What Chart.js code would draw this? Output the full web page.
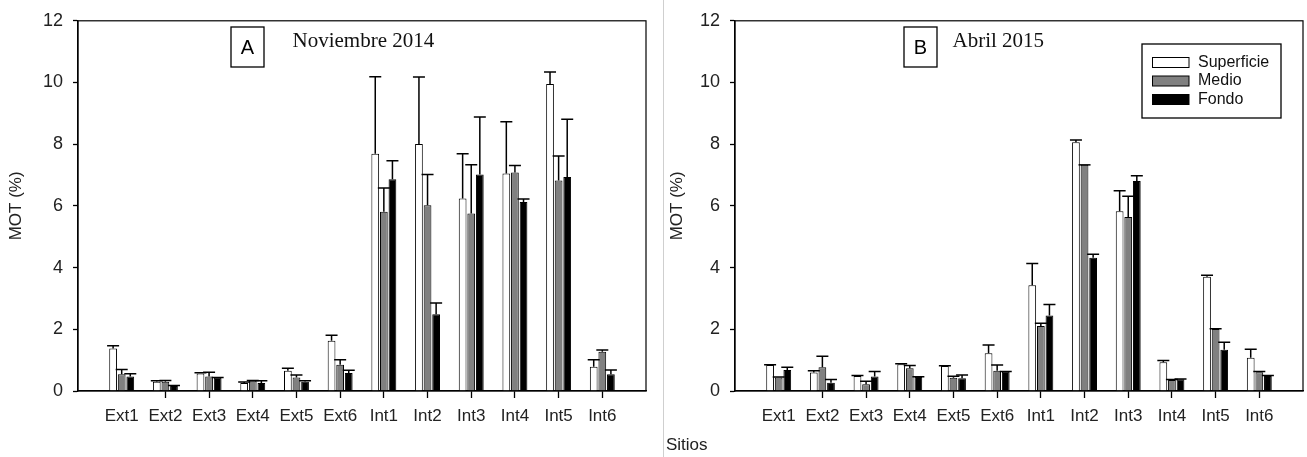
<!DOCTYPE html>
<html>
<head>
<meta charset="utf-8">
<script src="https://cdn.jsdelivr.net/npm/chart.js@4.4.1/dist/chart.umd.min.js"></script>
<style>
  html, body { margin: 0; padding: 0; background: #fff; }
  #wrap { position: relative; width: 1307px; height: 457px; overflow: hidden; }
  canvas { position: absolute; top: 0; }
  #chartA { left: 0; }
  #chartB { left: 663px; }
  #sep { position: absolute; left: 663px; top: 0; width: 1px; height: 457px; background: #cfcfcf; }
  #sitios { position: absolute; left: 666px; top: 435px; font: 17px Arial, "Liberation Sans", sans-serif; color: #222; }
</style>
</head>
<body>
<div id="wrap">
  <canvas id="chartA" width="663" height="457"></canvas>
  <div id="sep"></div>
  <canvas id="chartB" width="644" height="457"></canvas>
  <div id="sitios">Sitios</div>
</div>
<script>
// sampling sites
const sites = ['Ext1', 'Ext2', 'Ext3', 'Ext4', 'Ext5', 'Ext6', 'Int1', 'Int2', 'Int3', 'Int4', 'Int5', 'Int6'];
const depths = ['Superficie', 'Medio', 'Fondo'];

// Noviembre 2014 - MOT (%) means and standard errors
const nov2014Sup = [1.38, 0.30, 0.57, 0.26, 0.66, 1.63, 7.69, 8.01, 6.24, 7.05, 9.95, 0.79];
const nov2014SupErr = [0.09, 0.03, 0.02, 0.03, 0.08, 0.18, 2.50, 2.17, 1.45, 1.68, 0.39, 0.22];
const nov2014Med = [0.54, 0.30, 0.47, 0.33, 0.44, 0.85, 5.81, 6.02, 5.75, 7.08, 6.82, 1.27];
const nov2014MedErr = [0.16, 0.04, 0.14, 0.01, 0.08, 0.16, 0.77, 1.00, 1.58, 0.23, 0.80, 0.06];
const nov2014Fon = [0.47, 0.16, 0.43, 0.26, 0.30, 0.58, 6.86, 2.49, 7.02, 6.13, 6.94, 0.54];
const nov2014FonErr = [0.09, 0.02, 0.01, 0.07, 0.03, 0.09, 0.60, 0.36, 1.86, 0.09, 1.87, 0.14];

// Abril 2015
const abr2015Sup = [0.84, 0.60, 0.49, 0.87, 0.81, 1.22, 3.43, 8.06, 5.83, 0.93, 3.70, 1.08];
const abr2015SupErr = [0.01, 0.06, 0.01, 0.01, 0.01, 0.27, 0.70, 0.08, 0.66, 0.06, 0.05, 0.27];
const abr2015Med = [0.44, 0.77, 0.22, 0.74, 0.43, 0.66, 2.11, 7.33, 5.64, 0.36, 2.01, 0.61];
const abr2015MedErr = [0.01, 0.36, 0.10, 0.09, 0.05, 0.18, 0.09, 0.00, 0.67, 0.01, 0.01, 0.02];
const abr2015Fon = [0.68, 0.27, 0.47, 0.45, 0.41, 0.62, 2.45, 4.32, 6.81, 0.38, 1.34, 0.49];
const abr2015FonErr = [0.09, 0.10, 0.16, 0.01, 0.11, 0.01, 0.35, 0.11, 0.17, 0.01, 0.24, 0.01];

const yTicksMax = 12;
const yTicksStep = 2;

const fills = ['#ffffff', '#808080', '#000000'];
const sans = 'Arial, "Liberation Sans", sans-serif';
const serif = '"Times New Roman", "Liberation Serif", serif';

// empty slot on each side of the sites, like the original axis
const pad = arr => [null, ...arr, null];
const labels = pad(sites);

// upward error bars with caps
const errorBars = {
  id: 'errorBars',
  afterDatasetsDraw(chart) {
    const ctx = chart.ctx;
    const y = chart.scales.y;
    ctx.save();
    ctx.strokeStyle = '#000';
    ctx.lineWidth = 1.5;
    chart.data.datasets.forEach((ds, i) => {
      const meta = chart.getDatasetMeta(i);
      meta.data.forEach((bar, j) => {
        const v = ds.data[j];
        if (v == null) return;
        const top = y.getPixelForValue(v + ds.errors[j]);
        ctx.beginPath();
        ctx.moveTo(bar.x, bar.y);
        ctx.lineTo(bar.x, top);
        ctx.moveTo(bar.x - 6, top);
        ctx.lineTo(bar.x + 6, top);
        ctx.stroke();
      });
    });
    ctx.restore();
  }
};

// frame, panel letter, panel title and optional boxed legend
const panelDecor = {
  id: 'panelDecor',
  afterDraw(chart, args, opts) {
    const ctx = chart.ctx;
    const a = chart.chartArea;
    ctx.save();
    ctx.strokeStyle = '#000';
    ctx.lineWidth = 1.2;
    ctx.strokeRect(a.left, a.top, a.right - a.left, a.bottom - a.top);

    // letter box
    ctx.lineWidth = 1.3;
    ctx.strokeRect(a.left + opts.boxX, 27, 33, 40);
    ctx.fillStyle = '#000';
    ctx.font = '20px ' + sans;
    ctx.textAlign = 'center';
    ctx.textBaseline = 'middle';
    ctx.fillText(opts.letter, a.left + opts.boxX + 16.5, 48);

    ctx.font = '21px ' + serif;
    ctx.textAlign = 'left';
    ctx.textBaseline = 'alphabetic';
    ctx.fillStyle = '#111';
    ctx.fillText(opts.title, a.left + opts.titleX, 46.5);

    if (opts.legend) {
      const lx = a.left + 407, ly = 44;
      ctx.lineWidth = 1.3;
      ctx.strokeStyle = '#000';
      ctx.strokeRect(lx, ly, 139, 74);
      ctx.font = '16px ' + sans;
      ctx.textBaseline = 'middle';
      chart.data.datasets.forEach((ds, i) => {
        const cy = ly + 18.5 + i * 18.5;
        ctx.fillStyle = ds.backgroundColor;
        ctx.fillRect(lx + 10.5, cy - 5, 36.5, 10);
        ctx.lineWidth = 1;
        ctx.strokeRect(lx + 10.5, cy - 5, 36.5, 10);
        ctx.fillStyle = '#111';
        ctx.fillText(ds.label, lx + 56, cy);
      });
    }
    ctx.restore();
  }
};

function makeChart(id, series, errs, decor, yWidth, titlePad, rightPad) {
  const datasets = series.map((s, i) => ({
    label: depths[i],
    data: pad(s),
    errors: pad(errs[i]),
    backgroundColor: fills[i],
    borderColor: '#000',
    borderWidth: 1,
    categoryPercentage: 0.59,
    barPercentage: 0.9
  }));
  return new Chart(document.getElementById(id), {
    type: 'bar',
    data: { labels: labels, datasets: datasets },
    plugins: [errorBars, panelDecor],
    options: {
      responsive: false,
      animation: false,
      layout: { padding: { top: 20, left: 0, right: rightPad, bottom: 0 } },
      plugins: {
        legend: { display: false },
        tooltip: { enabled: false },
        panelDecor: decor
      },
      scales: {
        x: {
          type: 'category',
          offset: false,
          afterFit: s => { s.height = 66; },
          grid: {
            offset: false,
            drawOnChartArea: false,
            drawTicks: true,
            tickLength: 7,
            tickWidth: 1.3,
            tickColor: ctx => (ctx.index === 0 || ctx.index === labels.length - 1) ? 'rgba(0,0,0,0)' : '#000'
          },
          border: { display: true, color: '#000', width: 1.3 },
          ticks: {
            autoSkip: false,
            maxRotation: 0,
            padding: 8,
            color: '#222',
            font: { family: sans, size: 17 }
          }
        },
        y: {
          min: 0,
          max: yTicksMax,
          afterFit: s => { s.width = yWidth; },
          grid: { drawOnChartArea: false, drawTicks: true, tickLength: 5, tickWidth: 1.3, tickColor: '#000' },
          border: { display: true, color: '#000', width: 1.3 },
          ticks: {
            stepSize: yTicksStep,
            padding: 10,
            color: '#222',
            font: { family: sans, size: 18 }
          },
          title: {
            display: true,
            text: 'MOT (%)',
            color: '#222',
            padding: { top: titlePad, bottom: 0 },
            font: { family: sans, size: 17 }
          }
        }
      }
    }
  });
}

makeChart('chartA',
  [nov2014Sup, nov2014Med, nov2014Fon],
  [nov2014SupErr, nov2014MedErr, nov2014FonErr],
  { letter: 'A', title: 'Noviembre 2014', boxX: 153, titleX: 214.5, legend: false },
  78, 6, 17);

makeChart('chartB',
  [abr2015Sup, abr2015Med, abr2015Fon],
  [abr2015SupErr, abr2015MedErr, abr2015FonErr],
  { letter: 'B', title: 'Abril 2015', boxX: 169, titleX: 217.5, legend: true },
  72, 4, 4);
</script>
</body>
</html>
